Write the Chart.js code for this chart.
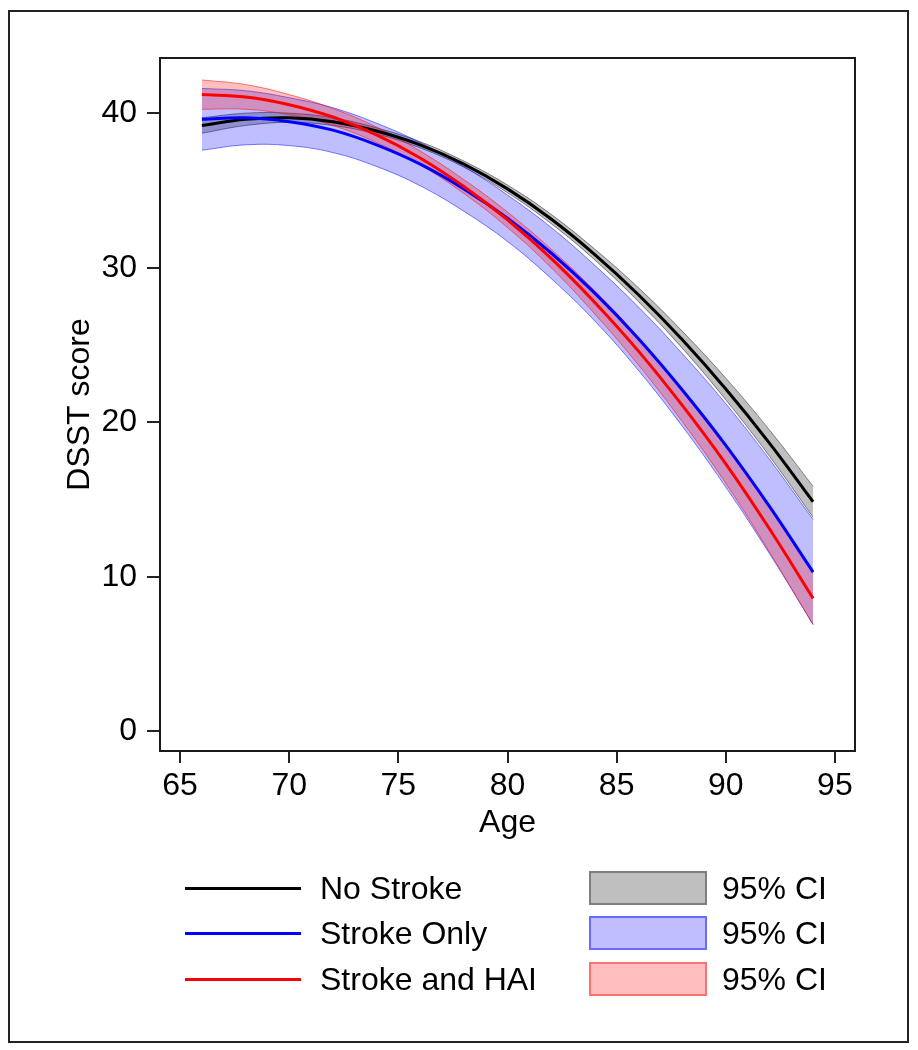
<!DOCTYPE html>
<html>
<head>
<meta charset="utf-8">
<script src="https://cdn.jsdelivr.net/npm/chart.js@4/dist/chart.umd.min.js"></script>
<style>
  html, body { margin: 0; padding: 0; background: #fff; }
  #wrap { position: relative; width: 918px; height: 1050px; font-family: "Liberation Sans", Arial, sans-serif; color: #000; }
  #c { position: absolute; left: 0; top: 0; }
  #frame { position: absolute; left: 8px; top: 10px; width: 897px; height: 1029px; border: 2px solid #222; }
  .lg { position: absolute; font-size: 32px; line-height: 36px; height: 36px; white-space: nowrap; }
  .ln { position: absolute; height: 3px; width: 116px; }
  .bx { position: absolute; width: 114px; height: 30px; border-width: 2px; border-style: solid; }
</style>
</head>
<body>
<div id="wrap">
  <canvas id="c" width="918" height="1050"></canvas>
  <div id="frame"></div>
  <div id="legend"></div>
</div>
<script>
// ---- data ----
const ages = [66, 68, 70, 72, 74, 76, 78, 80, 82, 84, 86, 88, 90, 92, 94];

const noStroke     = [39.2, 39.6, 39.7, 39.45, 38.85, 37.95, 36.7, 35.1, 33.15, 30.85, 28.25, 25.35, 22.15, 18.65, 14.85];
const noStrokeLo   = [38.7, 39.2, 39.4, 39.2, 38.65, 37.75, 36.5, 34.85, 32.85, 30.5, 27.8, 24.8, 21.45, 17.8, 13.85];
const noStrokeHi   = [39.7, 40.0, 40.0, 39.7, 39.05, 38.15, 36.9, 35.35, 33.45, 31.2, 28.7, 25.9, 22.85, 19.5, 15.85];

const strokeOnly   = [39.6, 39.7, 39.45, 38.9, 37.95, 36.7, 35.1, 33.2, 30.95, 28.35, 25.4, 22.1, 18.5, 14.55, 10.3];
const strokeOnlyLo = [37.6, 37.95, 37.9, 37.45, 36.55, 35.3, 33.65, 31.7, 29.3, 26.55, 23.35, 19.75, 15.8, 11.5, 6.9];
const strokeOnlyHi = [41.6, 41.45, 41.0, 40.35, 39.35, 38.1, 36.55, 34.7, 32.6, 30.15, 27.45, 24.45, 21.2, 17.6, 13.7];

const strokeHAI    = [41.2, 41.05, 40.55, 39.75, 38.6, 37.1, 35.25, 33.1, 30.6, 27.75, 24.6, 21.1, 17.3, 13.1, 8.6];
const strokeHAILo  = [40.25, 40.25, 39.9, 39.2, 38.1, 36.65, 34.8, 32.6, 30.0, 27.0, 23.7, 20.05, 16.05, 11.6, 6.9];
const strokeHAIHi  = [42.15, 41.85, 41.2, 40.3, 39.1, 37.55, 35.7, 33.6, 31.2, 28.5, 25.5, 22.15, 18.55, 14.6, 10.3];

const xTicks = [65, 70, 75, 80, 85, 90, 95];
const yTicks = [0, 10, 20, 30, 40];
const seriesNames = ["No Stroke", "Stroke Only", "Stroke and HAI"];
const ciLabel = "95% CI";

// ---- styles ----
const lineColors = ["#000000", "#0000ff", "#ff0000"];
const bandFill   = ["rgba(0,0,0,0.25)", "rgba(0,0,255,0.25)", "rgba(255,0,0,0.25)"];
const bandEdge   = ["rgba(0,0,0,0.45)", "rgba(0,0,255,0.5)", "rgba(255,0,0,0.5)"];
const legendBox  = ["#bfbfbf", "#bfbfff", "#ffbfbf"];
const legendEdge = ["#7f7f7f", "#6a6aff", "#ff7070"];

const pts = arr => ages.map((a, i) => ({ x: a, y: arr[i] }));

function lineDs(label, arr, color, order) {
  return { label, data: pts(arr), borderColor: color, borderWidth: 3, pointRadius: 0,
           fill: false, tension: 0.4, order };
}
function edgeDs(label, arr, edge, fillColor, fill, order) {
  return { label, data: pts(arr), borderColor: edge, borderWidth: 1, pointRadius: 0,
           backgroundColor: fillColor, fill, tension: 0.4, order };
}

const datasets = [
  lineDs(seriesNames[0], noStroke, lineColors[0], 2),
  lineDs(seriesNames[1], strokeOnly, lineColors[1], 1),
  lineDs(seriesNames[2], strokeHAI, lineColors[2], 0),
  edgeDs("ns lo", noStrokeLo, bandEdge[0], bandFill[0], false, 8),
  edgeDs("ns hi", noStrokeHi, bandEdge[0], bandFill[0], '-1', 7),
  edgeDs("so lo", strokeOnlyLo, bandEdge[1], bandFill[1], false, 6),
  edgeDs("so hi", strokeOnlyHi, bandEdge[1], bandFill[1], '-1', 5),
  edgeDs("sh lo", strokeHAILo, bandEdge[2], bandFill[2], false, 4),
  edgeDs("sh hi", strokeHAIHi, bandEdge[2], bandFill[2], '-1', 3)
];

const boxPlugin = {
  id: 'plotBox',
  afterDraw(chart) {
    const a = chart.chartArea, ctx = chart.ctx;
    ctx.save();
    ctx.strokeStyle = '#1a1a1a';
    ctx.lineWidth = 2;
    ctx.strokeRect(a.left, a.top, a.right - a.left, a.bottom - a.top);
    ctx.restore();
  }
};

const FONT = { family: '"Liberation Sans", Arial, sans-serif', size: 32 };

new Chart(document.getElementById('c'), {
  type: 'line',
  data: { datasets },
  plugins: [boxPlugin],
  options: {
    responsive: false,
    animation: false,
    devicePixelRatio: 1,
    layout: { padding: { left: 61, top: 58, right: 63, bottom: 208 } },
    plugins: { legend: { display: false }, tooltip: { enabled: false } },
    scales: {
      x: {
        type: 'linear', min: 64.08, max: 95.92,
        afterFit: s => { s.height = 91; },
        afterBuildTicks: s => { s.ticks = xTicks.map(v => ({ value: v })); },
        grid: { drawOnChartArea: false, drawTicks: true, tickLength: 12, color: '#222', lineWidth: 2 },
        border: { display: false },
        ticks: { font: FONT, color: '#000', padding: 4, maxRotation: 0, autoSkip: false },
        title: { display: true, text: 'Age', font: FONT, color: '#000', padding: 0 }
      },
      y: {
        type: 'linear', min: -1.28, max: 43.57,
        afterFit: s => { s.width = 99; },
        afterBuildTicks: s => { s.ticks = yTicks.map(v => ({ value: v })); },
        grid: { drawOnChartArea: false, drawTicks: true, tickLength: 13, color: '#222', lineWidth: 2 },
        border: { display: false },
        ticks: { font: FONT, color: '#000', padding: 10, autoSkip: false },
        title: { display: true, text: 'DSST score', font: FONT, color: '#000', padding: 0 }
      }
    }
  }
});

// ---- legend (HTML) ----
const rowsY = [888, 933, 979];
const lg = document.getElementById('legend');
seriesNames.forEach((name, i) => {
  const cy = rowsY[i];
  const ln = document.createElement('div');
  ln.className = 'ln';
  ln.style.left = '185px'; ln.style.top = (cy - 1.5) + 'px';
  ln.style.background = lineColors[i];
  lg.appendChild(ln);
  const t = document.createElement('div');
  t.className = 'lg'; t.textContent = name;
  t.style.left = '320px'; t.style.top = (cy - 18) + 'px';
  lg.appendChild(t);
  const bx = document.createElement('div');
  bx.className = 'bx';
  bx.style.left = '589px'; bx.style.top = (cy - 17) + 'px';
  bx.style.background = legendBox[i]; bx.style.borderColor = legendEdge[i];
  lg.appendChild(bx);
  const t2 = document.createElement('div');
  t2.className = 'lg'; t2.textContent = ciLabel;
  t2.style.left = '722px'; t2.style.top = (cy - 18) + 'px';
  lg.appendChild(t2);
});
</script>
</body>
</html>
